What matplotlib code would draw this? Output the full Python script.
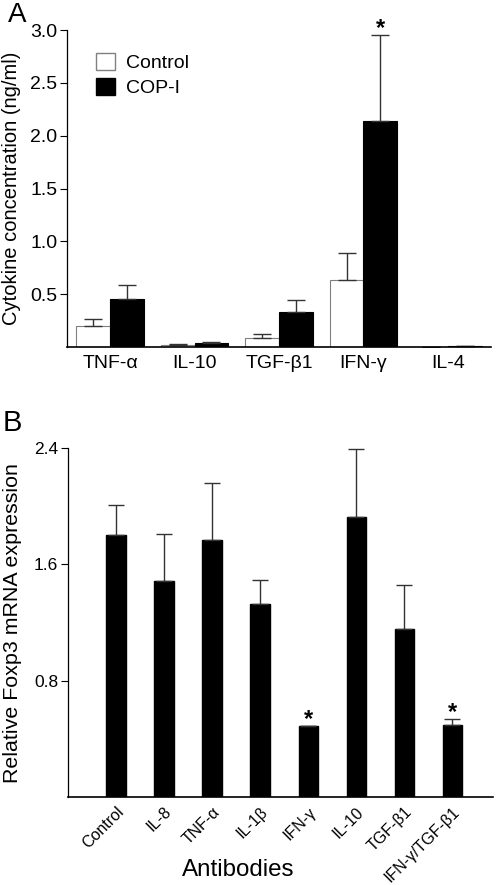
import numpy as np
import matplotlib
matplotlib.use("Agg")
import matplotlib.pyplot as plt
from matplotlib.patches import Patch

plt.rcParams['font.family'] = ['Liberation Sans', 'DejaVu Sans']

# Panel A data
cytokines = ["TNF-α", "IL-10", "TGF-β1", "IFN-γ", "IL-4"]
control_vals = [0.20, 0.02, 0.088, 0.634, 0.0]
control_err = [0.065, 0.004, 0.032, 0.256, 0.0]
cop_vals = [0.457, 0.034, 0.33, 2.136, 0.005]
cop_err = [0.126, 0.011, 0.115, 0.814, 0.004]

# Panel B data
antibodies = ["Control", "IL-8", "TNF-α", "IL-1β", "IFN-γ", "IL-10", "TGF-β1", "IFN-γ/TGF-β1"]
foxp3_vals = [1.803, 1.485, 1.766, 1.325, 0.487, 1.924, 1.156, 0.494]
foxp3_err = [0.203, 0.320, 0.391, 0.167, 0.004, 0.468, 0.299, 0.047]
significant = [False, False, False, False, True, False, False, True]

fig = plt.figure(figsize=(5.0, 8.85), dpi=100)

# ---------------- Panel A ----------------
axA = fig.add_axes([0.134, 0.608, 0.848, 0.358])
x = np.arange(len(cytokines))
w = 0.4
ekw = dict(ecolor="#333333", elinewidth=1.0, capsize=6.5, capthick=1.0)
axA.bar(x - w / 2, control_vals, w, color="white", edgecolor="#808080", linewidth=0.8,
        yerr=[np.zeros(len(x)), control_err], error_kw=ekw, zorder=2)
axA.bar(x + w / 2, cop_vals, w, color="black", edgecolor="black", linewidth=0.8,
        yerr=[np.zeros(len(x)), cop_err], error_kw=ekw, zorder=2)
axA.text(x[3] + w / 2, cop_vals[3] + cop_err[3], "*", ha="center", va="baseline",
         fontsize=17, fontweight="bold")

axA.set_xlim(-0.51, 4.51)
axA.set_ylim(0, 3.0)
axA.set_yticks([0.5, 1.0, 1.5, 2.0, 2.5, 3.0])
axA.set_yticklabels(["0.5", "1.0", "1.5", "2.0", "2.5", "3.0"])
axA.set_xticks(x)
axA.set_xticklabels(cytokines)
axA.tick_params(axis="x", length=0, labelsize=14, pad=6)
axA.tick_params(axis="y", length=5, width=0.8, labelsize=14, pad=2, direction="out")
axA.spines["top"].set_visible(False)
axA.spines["right"].set_visible(False)
axA.spines["left"].set_linewidth(0.9)
axA.spines["bottom"].set_linewidth(1.2)
axA.set_ylabel("Cytokine concentration (ng/ml)", fontsize=14.5)
axA.yaxis.set_label_coords(-0.108, 0.5)

handles = [Patch(facecolor="white", edgecolor="#808080", label="Control"),
           Patch(facecolor="black", edgecolor="black", label="COP-I")]
axA.legend(handles=handles, loc="upper left", bbox_to_anchor=(0.041, 0.965), frameon=False,
           fontsize=14, handlelength=1.0, handleheight=1.0, handletextpad=0.55,
           labelspacing=0.3, borderaxespad=0.2)

fig.text(0.016, 0.983, "A", fontsize=20, va="center", ha="left")

# ---------------- Panel B ----------------
axB = fig.add_axes([0.136, 0.099, 0.850, 0.395])
xb = np.arange(len(antibodies))
axB.bar(xb, foxp3_vals, 0.4, color="black", edgecolor="black",
        yerr=[np.zeros(len(xb)), foxp3_err],
        error_kw=dict(ecolor="#333333", elinewidth=1.0, capsize=6, capthick=1.0), zorder=2)
for xi, v, e, s in zip(xb, foxp3_vals, foxp3_err, significant):
    if s:
        axB.text(xi, v + e, "*", ha="center", va="baseline", fontsize=17, fontweight="bold")

axB.set_xlim(-1.0, 7.85)
axB.set_ylim(0, 2.4)
axB.set_yticks([0.8, 1.6, 2.4])
axB.set_yticklabels(["0.8", "1.6", "2.4"])
axB.set_xticks(xb)
axB.set_xticklabels(antibodies, rotation=45, ha="right", rotation_mode="anchor")
axB.tick_params(axis="x", length=0, labelsize=11.5, pad=5)
axB.tick_params(axis="y", length=5, width=0.8, labelsize=12.5, pad=2, direction="out")
axB.spines["top"].set_visible(False)
axB.spines["right"].set_visible(False)
axB.spines["left"].set_linewidth(0.9)
axB.spines["bottom"].set_linewidth(1.2)
axB.set_ylabel("Relative Foxp3 mRNA expression", fontsize=15.4)
axB.yaxis.set_label_coords(-0.108, 0.5)

fig.text(238 / 500, 1 - 870 / 885, "Antibodies", fontsize=17.4, ha="center", va="center")
fig.text(0.006, 0.5215, "B", fontsize=21, va="center", ha="left")

fig.savefig("out.png", dpi=100)
